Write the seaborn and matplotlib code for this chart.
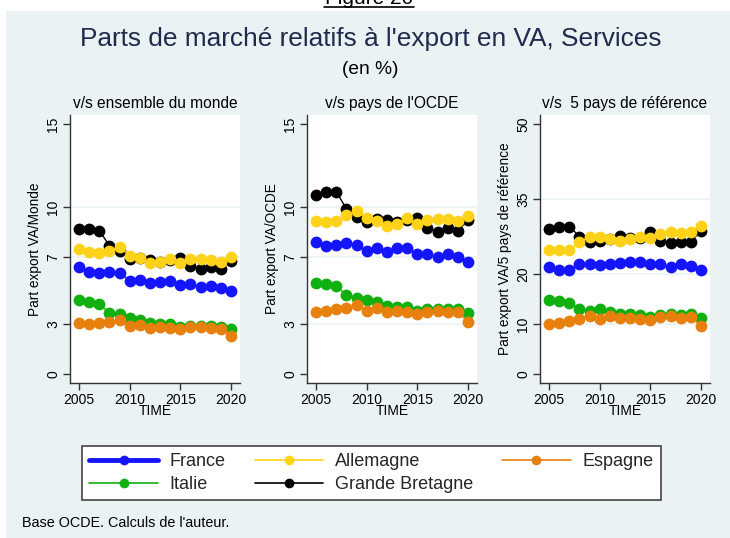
import pandas as pd
import numpy as np
import seaborn as sns
import matplotlib.pyplot as plt
from matplotlib.patches import Rectangle
from matplotlib.lines import Line2D

years = list(range(2005, 2021))
countries = ['France', 'Allemagne', 'Espagne', 'Italie', 'Grande Bretagne']
colors = {'France': '#1414ff', 'Allemagne': '#ffd21a', 'Espagne': '#e8800e',
          'Italie': '#10b010', 'Grande Bretagne': '#000000'}

# v/s ensemble du monde
monde_fr = [6.44, 6.14, 6.08, 6.10, 6.08, 5.60, 5.64, 5.44, 5.54, 5.58, 5.34, 5.38, 5.20, 5.30, 5.14, 4.96]
monde_de = [7.48, 7.30, 7.24, 7.40, 7.64, 7.10, 6.94, 6.64, 6.74, 6.88, 6.68, 6.90, 6.90, 6.84, 6.74, 7.04]
monde_es = [3.04, 3.00, 3.08, 3.10, 3.24, 2.88, 2.94, 2.78, 2.80, 2.78, 2.68, 2.80, 2.80, 2.74, 2.68, 2.28]
monde_it = [4.44, 4.30, 4.18, 3.68, 3.58, 3.34, 3.24, 3.04, 3.00, 2.98, 2.80, 2.88, 2.88, 2.88, 2.84, 2.68]
monde_gb = [8.68, 8.68, 8.60, 7.70, 7.38, 6.90, 6.94, 6.84, 6.74, 6.84, 6.98, 6.50, 6.30, 6.44, 6.30, 6.78]

# v/s pays de l'OCDE
ocde_fr = [7.94, 7.70, 7.74, 7.84, 7.74, 7.40, 7.54, 7.34, 7.54, 7.54, 7.20, 7.18, 7.00, 7.18, 7.00, 6.70]
ocde_de = [9.20, 9.14, 9.18, 9.54, 9.78, 9.34, 9.18, 8.88, 9.00, 9.34, 9.00, 9.24, 9.30, 9.30, 9.20, 9.50]
ocde_es = [3.74, 3.78, 3.90, 3.98, 4.14, 3.80, 3.94, 3.74, 3.80, 3.74, 3.60, 3.74, 3.80, 3.74, 3.74, 3.10]
ocde_it = [5.48, 5.40, 5.30, 4.74, 4.54, 4.44, 4.30, 4.10, 4.04, 4.00, 3.80, 3.88, 3.90, 3.90, 3.88, 3.64]
ocde_gb = [10.74, 10.90, 10.94, 9.90, 9.44, 9.10, 9.28, 9.24, 9.10, 9.24, 9.38, 8.74, 8.54, 8.74, 8.58, 9.24]

# v/s 5 pays de reference
ref_fr = [21.5, 20.8, 20.8, 22.0, 22.0, 21.8, 22.0, 22.2, 22.5, 22.4, 22.0, 22.0, 21.5, 22.0, 21.6, 20.8]
ref_de = [24.8, 24.8, 24.8, 26.4, 27.5, 27.5, 27.0, 26.7, 27.0, 27.5, 27.2, 28.0, 28.5, 28.2, 28.4, 29.7]
ref_es = [10.1, 10.3, 10.6, 11.0, 11.7, 11.1, 11.6, 11.3, 11.3, 11.1, 10.8, 11.5, 11.6, 11.3, 11.5, 9.6]
ref_it = [14.8, 14.6, 14.3, 13.0, 12.7, 13.0, 12.5, 12.1, 12.0, 11.8, 11.5, 11.8, 12.0, 11.9, 12.0, 11.3]
ref_gb = [29.0, 29.5, 29.5, 27.5, 26.5, 26.6, 27.0, 27.6, 27.2, 27.3, 28.5, 26.7, 26.2, 26.5, 26.5, 28.6]

panels = [
    ('v/s ensemble du monde', 'Part export VA/Monde', [0, 3, 7, 10, 15], (-0.54, 15.54),
     [monde_fr, monde_de, monde_es, monde_it, monde_gb]),
    ("v/s pays de l'OCDE", 'Part export VA/OCDE', [0, 3, 7, 10, 15], (-0.54, 15.54),
     [ocde_fr, ocde_de, ocde_es, ocde_it, ocde_gb]),
    ('v/s  5 pays de référence', 'Part export VA/5 pays de référence', [0, 10, 20, 35, 50], (-1.8, 51.8),
     [ref_fr, ref_de, ref_es, ref_it, ref_gb]),
]

bg = '#eaf2f3'
ink = '#333333'

sns.set_style('white')
plt.rcParams['font.family'] = ['Liberation Sans', 'DejaVu Sans']

W, H = 730, 538
fig = plt.figure(figsize=(W / 100, H / 100), dpi=100, facecolor='white')
fig.patches.append(Rectangle((6 / W, 0), 1, 1 - 11 / H, transform=fig.transFigure,
                             facecolor=bg, edgecolor='none', zorder=-10))

# page caption, cut at the top edge as in the source
fig.text(369 / W, 1 - 4 / H, 'Figure 20', ha='center', va='baseline', fontsize=15, color='black')
fig.lines.append(Line2D([324 / W, 414 / W], [1 - 7 / H, 1 - 7 / H], transform=fig.transFigure,
                        color='black', lw=1.2))

fig.text(371 / W, 1 - 39 / H, "Parts de marché relatifs à l'export en VA, Services", ha='center',
         va='center', fontsize=18.9, color='#1e2b4d')
fig.text(370 / W, 1 - 70 / H, '(en %)', ha='center', va='center', fontsize=13.8, color='black')

lefts = [70, 307, 540]
for (title, ylabel, ticks, ylim, series), left in zip(panels, lefts):
    ax = fig.add_axes([left / W, 1 - 383 / H, 170 / W, 268 / H])
    ax.set_facecolor('white')
    df = pd.DataFrame({'TIME': years * 5,
                       'value': np.concatenate(series),
                       'pays': np.repeat(countries, len(years))})
    for t in ticks[1:-1]:
        ax.axhline(t, color=bg, lw=1.2, zorder=0)
    sns.lineplot(data=df, x='TIME', y='value', hue='pays', palette=colors, marker='o',
                 markersize=8.5, markeredgewidth=0, linewidth=1, legend=False, ax=ax,
                 hue_order=countries[::-1], zorder=3)
    ax.set_xlim(2004.1, 2020.9)
    ax.set_ylim(*ylim)
    ax.set_xticks([2005, 2010, 2015, 2020])
    ax.set_yticks(ticks)
    ax.set_yticklabels([str(t) for t in ticks], rotation=90, va='center')
    ax.tick_params(axis='both', direction='out', length=5, width=1, color=ink,
                   labelsize=10, labelcolor='black', pad=2, left=True, bottom=True)
    for s in ['top', 'right']:
        ax.spines[s].set_visible(False)
    for s in ['left', 'bottom']:
        ax.spines[s].set_color(ink)
        ax.spines[s].set_linewidth(1)
    ax.set_xlabel('TIME', fontsize=10, labelpad=-2, color='black')
    ax.set_ylabel(ylabel, fontsize=9.8, labelpad=3, color='black')
    ax.set_title(title, fontsize=11.2, pad=5, color='black')

# legend filled column-wise: France/Italie, Allemagne/GB, Espagne
order = ['France', 'Italie', 'Allemagne', 'Grande Bretagne', 'Espagne']
handles = [Line2D([], [], color=colors[c], marker='o', markersize=7, markeredgewidth=0,
                  lw=3.5 if c == 'France' else 1.2) for c in order]
leg = fig.legend(handles, order, loc='center', bbox_to_anchor=(371.5 / W, 1 - 473 / H),
                 ncol=3, fontsize=13, frameon=True, fancybox=False, edgecolor='#444444',
                 facecolor='white', framealpha=1,
                 handlelength=3.8, columnspacing=1.6, borderpad=0.4, labelspacing=0.35,
                 handletextpad=0.65, borderaxespad=0)
leg.get_frame().set_linewidth(1.2)

fig.text(22 / W, 1 - 523 / H, "Base OCDE. Calculs de l'auteur.", ha='left', va='center',
         fontsize=10.4, color='black')

fig.savefig('out.png', dpi=100, facecolor=fig.get_facecolor())
